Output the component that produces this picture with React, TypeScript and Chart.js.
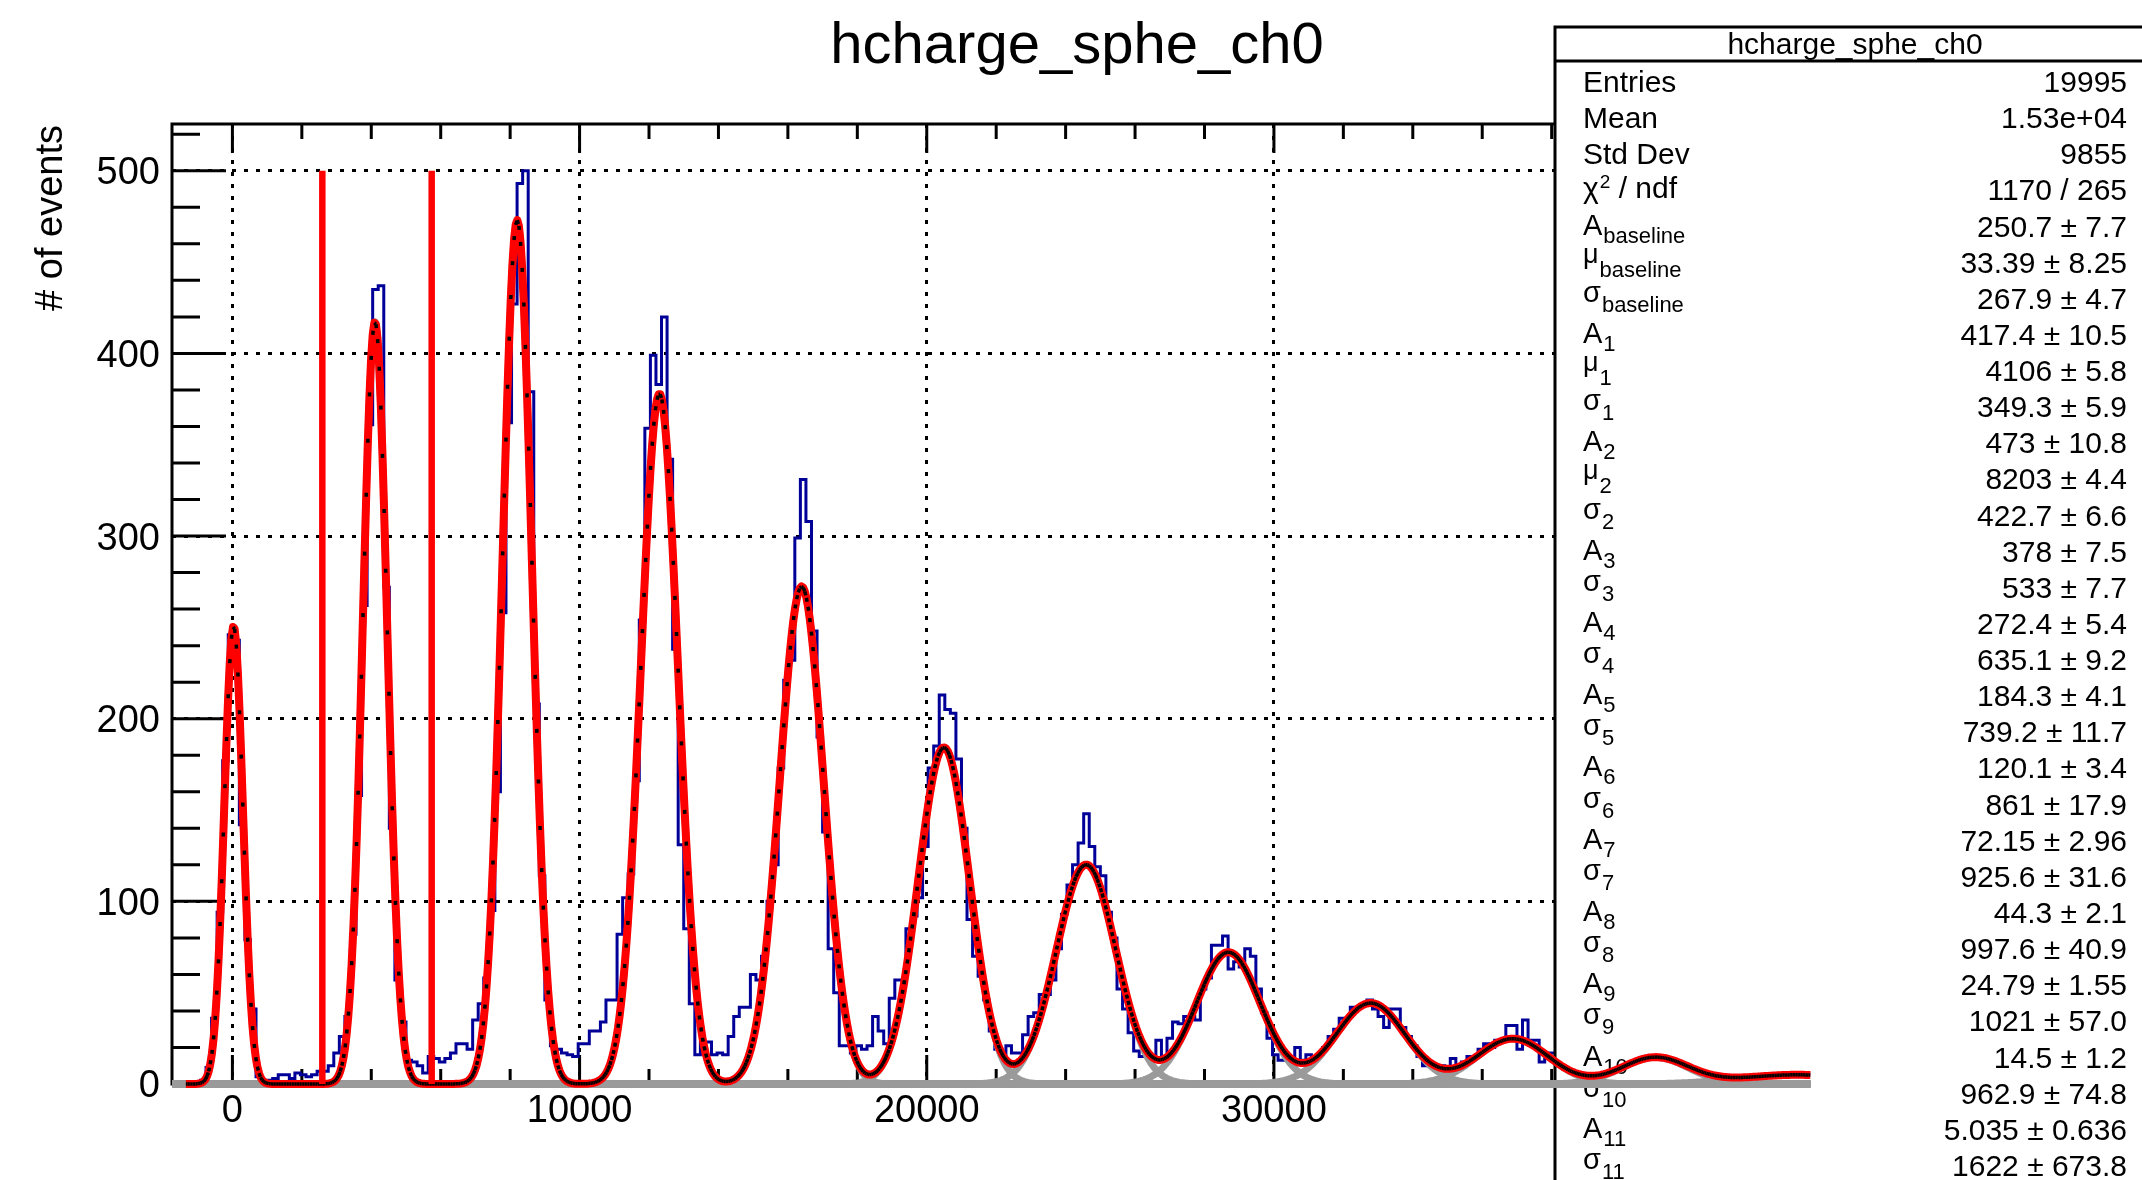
import React, { useEffect, useRef } from "react";
import { Chart, registerables } from "chart.js";

Chart.register(...registerables);

const FONT = '"Liberation Sans", Arial, Helvetica, sans-serif';

const TITLE = "hcharge_sphe_ch0";
const Y_TITLE = "# of events";

// axis ranges and ticks
const X_RANGE = [-1740, 48840];
const Y_RANGE = [0, 525.6];
const X_TICKS = [0, 10000, 20000, 30000, 40000];
const Y_TICKS = [0, 100, 200, 300, 400, 500];
const X_MINOR_STEP = 2000;
const Y_MINOR_STEP = 20;

// histogram: bins of width 160 starting at -1720
const BIN_LOW = -1720;
const BIN_WIDTH = 160;
const COUNTS = [
  0, 0, 0, 0, 0, 2, 9, 36, 94, 177,
  246, 243, 142, 79, 41, 4, 1, 2, 3, 5,
  5, 3, 6, 5, 4, 5, 7, 7, 10, 17,
  26, 37, 82, 158, 262, 361, 435, 437, 272, 140,
  57, 34, 13, 12, 10, 6, 15, 14, 12, 14,
  17, 22, 22, 19, 35, 44, 58, 95, 160, 258,
  362, 427, 493, 500, 379, 208, 114, 46, 21, 19,
  17, 16, 15, 22, 22, 29, 29, 34, 46, 46,
  82, 102, 115, 166, 254, 359, 399, 383, 420, 342,
  238, 131, 85, 44, 16, 23, 23, 16, 17, 16,
  26, 37, 42, 42, 60, 57, 70, 100, 120, 173,
  221, 232, 299, 331, 308, 248, 190, 138, 74, 50,
  21, 21, 17, 21, 19, 21, 37, 29, 22, 47,
  57, 57, 85, 92, 102, 130, 173, 185, 213, 205,
  203, 178, 140, 90, 70, 59, 46, 29, 19, 16,
  21, 17, 17, 27, 37, 39, 49, 49, 57, 74,
  93, 109, 120, 132, 148, 130, 119, 114, 94, 80,
  52, 41, 28, 18, 15, 16, 15, 24, 15, 25,
  34, 33, 37, 37, 35, 52, 58, 76, 76, 81,
  63, 67, 64, 74, 70, 52, 39, 25, 16, 13,
  13, 13, 20, 13, 16, 15, 16, 20, 26, 30,
  36, 36, 42, 42, 43, 46, 41, 37, 31, 41,
  41, 31, 26, 21, 15, 10, 10, 9, 10, 8,
  14, 10, 12, 15, 15, 19, 22, 20, 24, 24,
  32, 32, 19, 35, 24, 24, 12, 17, 17,
];

// fit parameters (from the stats box)
const AMP = [250.7, 417.4, 473, 378, 272.4, 184.3, 120.1, 72.15, 44.3, 24.79, 14.5, 5.035];
const SIGMA = [267.9, 349.3, 422.7, 533, 635.1, 739.2, 861, 925.6, 997.6, 1021, 962.9, 1622];
const MU_FREE = [33.39, 4106, 8203];
const FIT_RANGE = [-1340, 45450];
const FIT_NPX = 1000;

// cut lines
const CUT_X = [2590, 5740];
const CUT_TOP = 500;

// stats box
const STAT_LABELS: [string, string, string][] = [
  ["Entries", "", "plain"],
  ["Mean", "", "plain"],
  ["Std Dev", "", "plain"],
  ["χ", "2", "chi"],
  ["A", "baseline", "A"],
  ["μ", "baseline", "mu"],
  ["σ", "baseline", "sigma"],
  ["A", "1", "A"],
  ["μ", "1", "mu"],
  ["σ", "1", "sigma"],
  ["A", "2", "A"],
  ["μ", "2", "mu"],
  ["σ", "2", "sigma"],
  ["A", "3", "A"],
  ["σ", "3", "sigma"],
  ["A", "4", "A"],
  ["σ", "4", "sigma"],
  ["A", "5", "A"],
  ["σ", "5", "sigma"],
  ["A", "6", "A"],
  ["σ", "6", "sigma"],
  ["A", "7", "A"],
  ["σ", "7", "sigma"],
  ["A", "8", "A"],
  ["σ", "8", "sigma"],
  ["A", "9", "A"],
  ["σ", "9", "sigma"],
  ["A", "10", "A"],
  ["σ", "10", "sigma"],
  ["A", "11", "A"],
  ["σ", "11", "sigma"],
];
const STAT_VALUES = [
  "19995",
  "1.53e+04",
  "9855",
  "1170 / 265",
  "250.7 ± 7.7",
  "33.39 ± 8.25",
  "267.9 ± 4.7",
  "417.4 ± 10.5",
  "4106 ± 5.8",
  "349.3 ± 5.9",
  "473 ± 10.8",
  "8203 ± 4.4",
  "422.7 ± 6.6",
  "378 ± 7.5",
  "533 ± 7.7",
  "272.4 ± 5.4",
  "635.1 ± 9.2",
  "184.3 ± 4.1",
  "739.2 ± 11.7",
  "120.1 ± 3.4",
  "861 ± 17.9",
  "72.15 ± 2.96",
  "925.6 ± 31.6",
  "44.3 ± 2.1",
  "997.6 ± 40.9",
  "24.79 ± 1.55",
  "1021 ± 57.0",
  "14.5 ± 1.2",
  "962.9 ± 74.8",
  "5.035 ± 0.636",
  "1622 ± 673.8",
];

// ---------- derived series ----------
const MU = AMP.map((_, n) =>
  n < 3 ? MU_FREE[n] : MU_FREE[1] + (n - 1) * (MU_FREE[2] - MU_FREE[1])
);
const gauss = (n: number, x: number) =>
  AMP[n] * Math.exp(-0.5 * Math.pow((x - MU[n]) / SIGMA[n], 2));

const histPoints = COUNTS.map((c, i) => ({ x: BIN_LOW + i * BIN_WIDTH, y: c }));
histPoints.push({ x: BIN_LOW + COUNTS.length * BIN_WIDTH, y: COUNTS[COUNTS.length - 1] });

const fitPoints: { x: number; y: number }[] = [];
for (let k = 0; k <= FIT_NPX; k++) {
  const x = FIT_RANGE[0] + ((FIT_RANGE[1] - FIT_RANGE[0]) * k) / FIT_NPX;
  let s = 0;
  for (let n = 0; n < AMP.length; n++) s += gauss(n, x);
  fitPoints.push({ x, y: s });
}

const componentSets = AMP.map((_, n) => {
  const pts: { x: number; y: number }[] = [];
  for (let k = 0; k <= FIT_NPX; k++) {
    const x = X_RANGE[0] + ((FIT_RANGE[1] - X_RANGE[0]) * k) / FIT_NPX;
    pts.push({ x, y: gauss(n, x) });
  }
  return pts;
});

// ---------- layout ----------
const W = 2142;
const H = 1180;
const AREA = { left: 172, top: 124, right: 1928, bottom: 1084 };

const framePlugin = {
  id: "rootFrame",
  beforeDatasetsDraw(chart: any) {
    const { ctx, chartArea: a, scales } = chart;
    const xs = scales.x;
    const ys = scales.y;
    ctx.save();
    ctx.strokeStyle = "#000";
    ctx.lineWidth = 3;
    ctx.setLineDash([]);
    ctx.beginPath();
    for (
      let v = Math.ceil(X_RANGE[0] / X_MINOR_STEP) * X_MINOR_STEP;
      v <= X_RANGE[1];
      v += X_MINOR_STEP
    ) {
      const p = xs.getPixelForValue(v);
      const len = X_TICKS.includes(v) ? 29 : 15;
      ctx.moveTo(p, a.bottom);
      ctx.lineTo(p, a.bottom - len);
      ctx.moveTo(p, a.top);
      ctx.lineTo(p, a.top + len);
    }
    for (let v = Y_RANGE[0]; v <= Y_RANGE[1]; v += Y_MINOR_STEP) {
      const p = ys.getPixelForValue(v);
      const len = Y_TICKS.includes(v) ? 54 : 28;
      ctx.moveTo(a.left, p);
      ctx.lineTo(a.left + len, p);
      ctx.moveTo(a.right, p);
      ctx.lineTo(a.right - len, p);
    }
    ctx.stroke();
    ctx.strokeRect(a.left, a.top, a.right - a.left, a.bottom - a.top);
    ctx.restore();
  },
};

function drawStats(ctx: CanvasRenderingContext2D) {
  const left = 1555;
  const top = 27;
  const sep = 61;
  ctx.save();
  ctx.setLineDash([]);
  ctx.fillStyle = "#fff";
  ctx.fillRect(left, top, W - left + 50, H - top + 50);
  ctx.strokeStyle = "#000";
  ctx.lineWidth = 3;
  ctx.beginPath();
  ctx.moveTo(left, H + 10);
  ctx.lineTo(left, top);
  ctx.lineTo(W + 10, top);
  ctx.moveTo(left, sep);
  ctx.lineTo(W + 10, sep);
  ctx.stroke();

  ctx.fillStyle = "#000";
  ctx.textBaseline = "alphabetic";
  ctx.textAlign = "center";
  ctx.font = `30px ${FONT}`;
  ctx.fillText(TITLE, 1855, 54);

  const lx = 1583;
  for (let k = 0; k < STAT_LABELS.length; k++) {
    const b = 92 + 36.13 * k;
    ctx.textAlign = "right";
    ctx.font = `30px ${FONT}`;
    ctx.fillText(STAT_VALUES[k], 2127, b);

    ctx.textAlign = "left";
    const [main, sub, kind] = STAT_LABELS[k];
    if (kind === "plain") {
      ctx.font = `30px ${FONT}`;
      ctx.fillText(main, lx, b);
    } else if (kind === "chi") {
      ctx.font = `30px ${FONT}`;
      ctx.fillText(main, lx, b - 2);
      let x = lx + ctx.measureText(main).width + 1;
      ctx.font = `19px ${FONT}`;
      ctx.fillText(sub, x, b - 12);
      x += ctx.measureText(sub).width;
      ctx.font = `30px ${FONT}`;
      ctx.fillText(" / ndf", x, b - 2);
    } else {
      let mainShift = -2;
      let subShift = 6;
      let mainSize = 29;
      if (kind === "mu") {
        mainShift = -10;
        subShift = 4;
        mainSize = 27;
      } else if (kind === "sigma") {
        mainShift = -7;
        subShift = 3;
        mainSize = 29;
      }
      ctx.font = `${mainSize}px ${FONT}`;
      ctx.fillText(main, lx, b + mainShift);
      const x = lx + ctx.measureText(main).width + 1;
      ctx.font = `22px ${FONT}`;
      ctx.fillText(sub, x, b + subShift);
    }
  }
  ctx.restore();
}

const HIST_INDEX = 4 + AMP.length;

const statsPlugin = {
  id: "statsBox",
  afterDatasetDraw(chart: any, args: any) {
    if (args.index !== HIST_INDEX) return;
    drawStats(chart.ctx);
  },
};

const titlePlugin = {
  id: "rootTitles",
  afterDraw(chart: any) {
    const ctx = chart.ctx as CanvasRenderingContext2D;
    ctx.save();
    ctx.fillStyle = "#000";
    ctx.textBaseline = "alphabetic";
    ctx.textAlign = "center";
    ctx.font = `58px ${FONT}`;
    ctx.fillText(TITLE, 1077, 63);

    ctx.translate(62, 125);
    ctx.rotate(-Math.PI / 2);
    ctx.textAlign = "right";
    ctx.font = `38px ${FONT}`;
    ctx.fillText(Y_TITLE, 0, 0);
    ctx.restore();
  },
};

export default function App() {
  const ref = useRef<HTMLCanvasElement | null>(null);

  useEffect(() => {
    if (!ref.current) return;
    const datasets: any[] = [];
    CUT_X.forEach((cx, i) => {
      datasets.push({
        label: `cut${i}`,
        data: [
          { x: cx, y: 0 },
          { x: cx, y: CUT_TOP },
        ],
        borderColor: "#ff0000",
        borderWidth: 6.5,
        pointRadius: 0,
        fill: false,
        clip: 10,
      });
    });
    datasets.push({
      label: "fit-black",
      data: fitPoints,
      borderColor: "#000000",
      borderWidth: 3.5,
      borderDash: [4, 400],
      segment: {
        borderDashOffset: (c: any) => c.p0DataIndex * 1e-6,
      },
      pointRadius: 0,
      fill: false,
      clip: 10,
    });
    datasets.push({
      label: "fit-red",
      data: fitPoints,
      borderColor: "#ff0000",
      borderWidth: 8,
      borderJoinStyle: "round",
      pointRadius: 0,
      fill: false,
      clip: 10,
    });
    componentSets.forEach((pts, n) => {
      datasets.push({
        label: `comp${n}`,
        data: pts,
        borderColor: "#9a9a9a",
        borderWidth: 7,
        borderJoinStyle: "round",
        pointRadius: 0,
        fill: false,
        clip: 10,
      });
    });
    datasets.push({
      label: "hist",
      data: histPoints,
      stepped: true,
      borderColor: "#000099",
      borderWidth: 3,
      pointRadius: 0,
      fill: false,
    });

    const chart = new Chart(ref.current, {
      type: "line",
      data: { datasets },
      options: {
        animation: false,
        responsive: false,
        devicePixelRatio: 1,
        events: [],
        layout: {
          padding: { left: 0, top: AREA.top, right: W - AREA.right, bottom: 0 },
        },
        plugins: {
          legend: { display: false },
          tooltip: { enabled: false },
          title: { display: false },
        },
        elements: { point: { radius: 0 }, line: { tension: 0 } },
        scales: {
          x: {
            type: "linear",
            min: X_RANGE[0],
            max: X_RANGE[1],
            afterBuildTicks: (s: any) => {
              s.ticks = X_TICKS.map((v) => ({ value: v }));
            },
            afterFit: (s: any) => {
              s.height = H - AREA.bottom;
            },
            grid: {
              color: "#000",
              lineWidth: 3,
              drawTicks: false,
            },
            border: { display: false, dash: [4, 8] },
            ticks: {
              color: "#000",
              font: { family: FONT, size: 38 },
              padding: 5,
              autoSkip: false,
              maxRotation: 0,
              includeBounds: false,
              callback: (v: any) => String(v),
            },
          },
          y: {
            type: "linear",
            min: Y_RANGE[0],
            max: Y_RANGE[1],
            afterBuildTicks: (s: any) => {
              s.ticks = Y_TICKS.map((v) => ({ value: v }));
            },
            afterFit: (s: any) => {
              s.width = AREA.left;
            },
            grid: {
              color: (c: any) =>
                c.tick && c.tick.value === 0 ? "rgba(0,0,0,0)" : "#000",
              lineWidth: 3,
              drawTicks: false,
            },
            border: { display: false, dash: [4, 8] },
            ticks: {
              color: "#000",
              font: { family: FONT, size: 38 },
              padding: 12,
              labelOffset: 3,
              autoSkip: false,
              includeBounds: false,
              callback: (v: any) => String(v),
            },
          },
        },
      } as any,
      plugins: [framePlugin, statsPlugin, titlePlugin],
    });
    return () => chart.destroy();
  }, []);

  return (
    <div
      style={{
        position: "absolute",
        left: 0,
        top: 0,
        width: W,
        height: H,
        background: "#fff",
        overflow: "hidden",
      }}
    >
      <canvas ref={ref} width={W} height={H} style={{ width: W, height: H, display: "block" }} />
    </div>
  );
}
